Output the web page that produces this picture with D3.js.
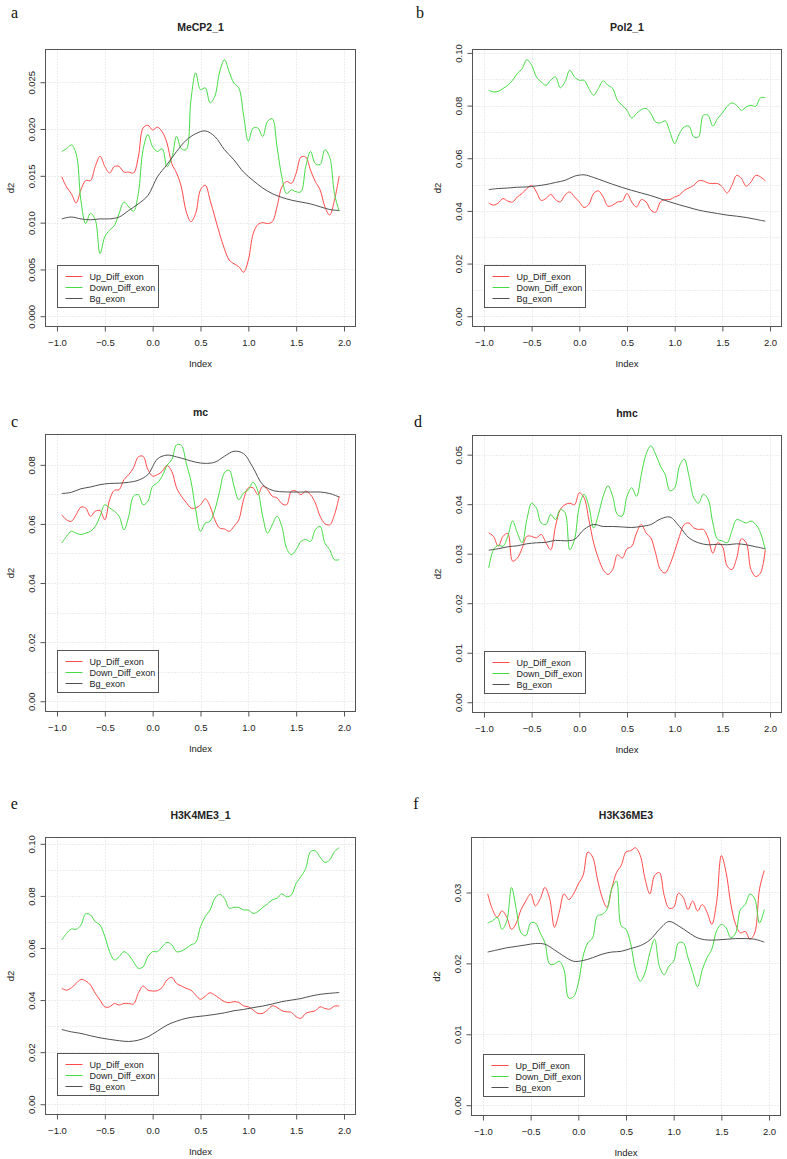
<!DOCTYPE html>
<html lang="en">
<head>
<meta charset="utf-8">
<title>Exon profiles</title>
<script src="https://d3js.org/d3.v7.min.js"></script>
<style type="text/css">
  body { margin: 0; background: white; }
  svg { display: block; }
  .axis text { font: 9.5px "Liberation Sans", Arial, sans-serif; fill: #222; }
  .axis path, .axis line { stroke: #555; }
  .grid line { stroke: #dadada; stroke-dasharray: 1,2; }
  .title { font: bold 10.5px "Liberation Sans", Arial, sans-serif; fill: #222; }
  .lab { font: 9.5px "Liberation Sans", Arial, sans-serif; fill: #222; }
  .letter { font: 16px "Liberation Serif", "Times New Roman", serif; fill: #111; }
  .legend text { font: 9px "Liberation Sans", Arial, sans-serif; fill: #222; }
</style>
</head>
<body>
<script type="text/javascript">
// x positions of the smoothed profiles
var xs = [-0.95,-0.9,-0.85,-0.8,-0.75,-0.7,-0.65,-0.6,-0.55,-0.5,
  -0.45,-0.4,-0.35,-0.3,-0.25,-0.2,-0.15,-0.1,-0.05,0,
  0.05,0.1,0.15,0.2,0.25,0.3,0.35,0.4,0.45,0.5,
  0.55,0.6,0.65,0.7,0.75,0.8,0.85,0.9,0.95,1,
  1.05,1.1,1.15,1.2,1.25,1.3,1.35,1.4,1.45,1.5,
  1.55,1.6,1.65,1.7,1.75,1.8,1.85,1.9,1.95];
var xsBg = [-0.95,-0.85,-0.75,-0.65,-0.55,-0.45,-0.35,-0.25,-0.15,-0.05,
  0.05,0.15,0.25,0.35,0.45,0.55,0.65,0.75,0.85,0.95,
  1.05,1.15,1.25,1.35,1.45,1.55,1.65,1.75,1.85,1.95];

var seriesNames = ["Up_Diff_exon", "Down_Diff_exon", "Bg_exon"];
var seriesColors = ["#ff4a4a", "#45dc45", "#505050"];
var titles = ["MeCP2_1", "Pol2_1", "mc", "hmc", "H3K4ME3_1", "H3K36ME3"];
var letters = ["a", "b", "c", "d", "e", "f"];
var xTicks = [-1, -0.5, 0, 0.5, 1, 1.5, 2];

// a: MeCP2_1
var aUp = [0.0149,0.0138,0.0131,0.0121,0.0135,0.0145,0.0145,0.0160,0.0171,0.0160,
  0.0153,0.0160,0.0160,0.0154,0.0154,0.0153,0.0170,0.0201,0.0204,0.0199,
  0.0202,0.0197,0.0185,0.0163,0.0153,0.0138,0.0112,0.0101,0.0110,0.0135,
  0.0140,0.0124,0.0106,0.0088,0.0072,0.0060,0.0056,0.0053,0.0047,0.0060,
  0.0088,0.0098,0.0100,0.0099,0.0101,0.0117,0.0138,0.0144,0.0142,0.0153,
  0.0170,0.0170,0.0156,0.0144,0.0135,0.0117,0.0108,0.0124,0.0150];
var aDown = [0.0176,0.0179,0.0183,0.0174,0.0124,0.0099,0.0110,0.0103,0.0067,0.0085,
  0.0092,0.0097,0.0110,0.0122,0.0117,0.0112,0.0131,0.0178,0.0194,0.0181,
  0.0176,0.0179,0.0160,0.0169,0.0192,0.0179,0.0178,0.0231,0.0260,0.0242,
  0.0244,0.0228,0.0235,0.0261,0.0274,0.0261,0.0249,0.0244,0.0215,0.0187,
  0.0201,0.0201,0.0192,0.0208,0.0211,0.0181,0.0149,0.0131,0.0135,0.0133,
  0.0133,0.0160,0.0176,0.0163,0.0162,0.0178,0.0170,0.0131,0.0112];
var aBg = [0.0104,0.0106,0.0104,0.0103,0.0104,0.0104,0.0106,0.0113,0.0120,0.0129,
  0.0149,0.0162,0.0176,0.0188,0.0195,0.0198,0.0192,0.0178,0.0167,0.0154,
  0.0145,0.0137,0.0131,0.0127,0.0124,0.0122,0.0120,0.0117,0.0114,0.0113];
var aTicks = [0, 0.005, 0.01, 0.015, 0.02, 0.025];
var aGrid = [0, 0.005, 0.01, 0.015, 0.02, 0.025];

// b: Pol2_1
var bUp = [0.0430,0.0422,0.0430,0.0447,0.0437,0.0434,0.0453,0.0466,0.0485,0.0497,
  0.0472,0.0440,0.0447,0.0463,0.0443,0.0434,0.0460,0.0472,0.0453,0.0434,
  0.0413,0.0425,0.0466,0.0476,0.0453,0.0418,0.0422,0.0434,0.0437,0.0466,
  0.0434,0.0415,0.0443,0.0434,0.0403,0.0395,0.0434,0.0443,0.0443,0.0453,
  0.0460,0.0478,0.0487,0.0497,0.0514,0.0514,0.0506,0.0504,0.0504,0.0491,
  0.0468,0.0497,0.0535,0.0523,0.0494,0.0510,0.0535,0.0529,0.0514];
var bDown = [0.0858,0.0852,0.0854,0.0865,0.0877,0.0896,0.0922,0.0940,0.0974,0.0953,
  0.0909,0.0890,0.0877,0.0896,0.0909,0.0868,0.0890,0.0934,0.0909,0.0896,
  0.0896,0.0865,0.0839,0.0865,0.0894,0.0877,0.0865,0.0820,0.0801,0.0782,
  0.0753,0.0770,0.0785,0.0789,0.0770,0.0738,0.0734,0.0742,0.0700,0.0656,
  0.0694,0.0719,0.0722,0.0681,0.0681,0.0763,0.0763,0.0722,0.0751,0.0772,
  0.0797,0.0810,0.0801,0.0782,0.0795,0.0801,0.0797,0.0830,0.0830];
var bBg = [0.0481,0.0485,0.0487,0.0490,0.0491,0.0495,0.0500,0.0508,0.0516,0.0532,
  0.0537,0.0527,0.0514,0.0501,0.0489,0.0478,0.0468,0.0458,0.0446,0.0434,
  0.0423,0.0413,0.0403,0.0396,0.0390,0.0384,0.0380,0.0375,0.0368,0.0361];
var bTicks = [0, 0.02, 0.04, 0.06, 0.08, 0.1];
var bGrid = [0, 0.01, 0.02, 0.03, 0.04, 0.05, 0.06, 0.07, 0.08, 0.09, 0.1];

// c: mc
var cUp = [0.0631,0.0614,0.0609,0.0631,0.0657,0.0654,0.0626,0.0643,0.0645,0.0614,
  0.0682,0.0714,0.0716,0.0750,0.0767,0.0790,0.0827,0.0829,0.0784,0.0762,
  0.0767,0.0778,0.0798,0.0778,0.0722,0.0694,0.0673,0.0654,0.0654,0.0665,
  0.0685,0.0660,0.0614,0.0586,0.0583,0.0575,0.0592,0.0614,0.0682,0.0722,
  0.0722,0.0699,0.0728,0.0716,0.0694,0.0688,0.0669,0.0665,0.0711,0.0711,
  0.0699,0.0711,0.0699,0.0671,0.0626,0.0601,0.0597,0.0631,0.0694];
var cDown = [0.0535,0.0558,0.0575,0.0569,0.0564,0.0569,0.0575,0.0592,0.0626,0.0665,
  0.0654,0.0643,0.0626,0.0580,0.0626,0.0694,0.0699,0.0665,0.0677,0.0728,
  0.0739,0.0762,0.0798,0.0818,0.0868,0.0866,0.0807,0.0745,0.0648,0.0575,
  0.0603,0.0609,0.0648,0.0711,0.0773,0.0782,0.0728,0.0682,0.0705,0.0716,
  0.0741,0.0711,0.0626,0.0569,0.0597,0.0626,0.0592,0.0518,0.0496,0.0513,
  0.0541,0.0547,0.0541,0.0580,0.0592,0.0535,0.0513,0.0479,0.0479];
var cBg = [0.0703,0.0707,0.0719,0.0725,0.0733,0.0737,0.0738,0.0741,0.0748,0.0767,
  0.0820,0.0833,0.0827,0.0818,0.0809,0.0805,0.0809,0.0829,0.0846,0.0838,
  0.0790,0.0733,0.0714,0.0709,0.0708,0.0708,0.0708,0.0708,0.0703,0.0691];
var cTicks = [0, 0.02, 0.04, 0.06, 0.08];
var cGrid = [0, 0.01, 0.02, 0.03, 0.04, 0.05, 0.06, 0.07, 0.08];

// d: hmc
var dUp = [0.0342,0.0335,0.0315,0.0335,0.0341,0.0285,0.0291,0.0311,0.0335,0.0335,
  0.0332,0.0339,0.0322,0.0308,0.0355,0.0389,0.0399,0.0402,0.0399,0.0423,
  0.0413,0.0369,0.0322,0.0291,0.0268,0.0258,0.0268,0.0298,0.0291,0.0310,
  0.0315,0.0342,0.0359,0.0342,0.0332,0.0301,0.0268,0.0261,0.0278,0.0305,
  0.0335,0.0359,0.0362,0.0352,0.0349,0.0349,0.0332,0.0301,0.0322,0.0315,
  0.0275,0.0268,0.0291,0.0330,0.0322,0.0268,0.0254,0.0261,0.0308];
var dDown = [0.0271,0.0308,0.0317,0.0315,0.0335,0.0366,0.0342,0.0322,0.0369,0.0402,
  0.0392,0.0362,0.0359,0.0379,0.0369,0.0389,0.0383,0.0308,0.0329,0.0396,
  0.0420,0.0396,0.0352,0.0379,0.0416,0.0437,0.0416,0.0379,0.0376,0.0416,
  0.0433,0.0416,0.0460,0.0501,0.0518,0.0501,0.0477,0.0460,0.0427,0.0433,
  0.0477,0.0491,0.0457,0.0413,0.0402,0.0420,0.0410,0.0362,0.0329,0.0326,
  0.0322,0.0346,0.0369,0.0366,0.0362,0.0366,0.0359,0.0342,0.0308];
var dBg = [0.0307,0.0310,0.0314,0.0316,0.0320,0.0322,0.0323,0.0327,0.0326,0.0329,
  0.0349,0.0359,0.0355,0.0355,0.0354,0.0353,0.0355,0.0359,0.0370,0.0374,
  0.0355,0.0332,0.0322,0.0318,0.0319,0.0318,0.0320,0.0318,0.0314,0.0310];
var dTicks = [0, 0.01, 0.02, 0.03, 0.04, 0.05];
var dGrid = [0, 0.01, 0.02, 0.03, 0.04, 0.05];

// e: H3K4ME3_1
var eUp = [0.0445,0.0438,0.0447,0.0464,0.0479,0.0474,0.0458,0.0426,0.0400,0.0374,
  0.0374,0.0387,0.0381,0.0387,0.0387,0.0385,0.0426,0.0454,0.0438,0.0435,
  0.0436,0.0449,0.0477,0.0487,0.0464,0.0454,0.0445,0.0438,0.0419,0.0403,
  0.0415,0.0428,0.0419,0.0406,0.0394,0.0390,0.0394,0.0391,0.0378,0.0374,
  0.0362,0.0349,0.0349,0.0362,0.0378,0.0372,0.0359,0.0355,0.0353,0.0336,
  0.0330,0.0349,0.0355,0.0359,0.0374,0.0368,0.0365,0.0377,0.0377];
var eDown = [0.0631,0.0656,0.0673,0.0672,0.0688,0.0731,0.0727,0.0701,0.0688,0.0644,
  0.0586,0.0554,0.0567,0.0586,0.0573,0.0547,0.0522,0.0528,0.0567,0.0586,
  0.0586,0.0605,0.0622,0.0612,0.0586,0.0588,0.0599,0.0612,0.0621,0.0682,
  0.0721,0.0746,0.0791,0.0806,0.0791,0.0753,0.0756,0.0756,0.0746,0.0746,
  0.0733,0.0740,0.0756,0.0769,0.0785,0.0791,0.0808,0.0797,0.0804,0.0849,
  0.0874,0.0906,0.0970,0.0973,0.0949,0.0929,0.0938,0.0970,0.0985];
var eBg = [0.0287,0.0278,0.0272,0.0263,0.0255,0.0249,0.0244,0.0241,0.0246,0.0259,
  0.0281,0.0304,0.0319,0.0330,0.0336,0.0340,0.0345,0.0351,0.0359,0.0364,
  0.0371,0.0377,0.0385,0.0394,0.0400,0.0406,0.0415,0.0422,0.0426,0.0429];
var eTicks = [0, 0.02, 0.04, 0.06, 0.08, 0.1];
var eGrid = [0, 0.01, 0.02, 0.03, 0.04, 0.05, 0.06, 0.07, 0.08, 0.09, 0.1];

// f: H3K36ME3
var fUp = [0.0298,0.0276,0.0265,0.0274,0.0265,0.0248,0.0257,0.0276,0.0288,0.0298,
  0.0281,0.0291,0.0307,0.0291,0.0251,0.0272,0.0298,0.0290,0.0298,0.0312,
  0.0324,0.0357,0.0350,0.0319,0.0293,0.0279,0.0305,0.0328,0.0338,0.0357,
  0.0359,0.0363,0.0352,0.0319,0.0298,0.0324,0.0328,0.0296,0.0278,0.0279,
  0.0299,0.0293,0.0276,0.0288,0.0274,0.0283,0.0272,0.0255,0.0286,0.0352,
  0.0328,0.0283,0.0255,0.0243,0.0245,0.0234,0.0243,0.0305,0.0331];
var fDown = [0.0257,0.0260,0.0265,0.0248,0.0260,0.0307,0.0276,0.0243,0.0239,0.0257,
  0.0257,0.0243,0.0229,0.0199,0.0199,0.0203,0.0191,0.0151,0.0153,0.0172,
  0.0210,0.0229,0.0236,0.0267,0.0269,0.0276,0.0305,0.0316,0.0253,0.0248,
  0.0227,0.0191,0.0175,0.0187,0.0215,0.0234,0.0196,0.0184,0.0196,0.0203,
  0.0229,0.0229,0.0208,0.0187,0.0167,0.0191,0.0208,0.0220,0.0246,0.0255,
  0.0250,0.0236,0.0243,0.0276,0.0283,0.0298,0.0291,0.0257,0.0276];
var fBg = [0.0216,0.0219,0.0222,0.0224,0.0226,0.0228,0.0227,0.0219,0.0210,0.0203,
  0.0204,0.0208,0.0213,0.0216,0.0217,0.0221,0.0225,0.0233,0.0248,0.0259,
  0.0253,0.0244,0.0236,0.0233,0.0233,0.0234,0.0235,0.0235,0.0234,0.0230];
var fTicks = [0, 0.01, 0.02, 0.03];
var fGrid = [0, 0.01, 0.02, 0.03];

var w = 787, h = 1159;

// plot boxes [left, top, right, bottom] and panel letter positions
var panels = [
  {up: aUp, down: aDown, bg: aBg, ticks: aTicks, grid: aGrid, fmt: ".3f",
   box: [45.5, 49.5, 355.5, 326.5], letterPos: [11, 17.5]},
  {up: bUp, down: bDown, bg: bBg, ticks: bTicks, grid: bGrid, fmt: ".2f",
   box: [472.5, 49.5, 781.5, 326.5], letterPos: [416, 17.5]},
  {up: cUp, down: cDown, bg: cBg, ticks: cTicks, grid: cGrid, fmt: ".2f",
   box: [45.5, 434.5, 355.5, 711.5], letterPos: [11, 427.3]},
  {up: dUp, down: dDown, bg: dBg, ticks: dTicks, grid: dGrid, fmt: ".2f",
   box: [472.5, 435.5, 781.5, 712.5], letterPos: [414, 427.3]},
  {up: eUp, down: eDown, bg: eBg, ticks: eTicks, grid: eGrid, fmt: ".2f",
   box: [45.5, 837.5, 355.5, 1114.5], letterPos: [10.7, 809.3]},
  {up: fUp, down: fDown, bg: fBg, ticks: fTicks, grid: fGrid, fmt: ".2f",
   box: [471.5, 837.5, 780.5, 1115.5], letterPos: [413.3, 809.3]}
];

var svg = d3.select("body").append("svg")
    .attr("width", w)
    .attr("height", h);

svg.append("rect").attr("width", w).attr("height", h).attr("fill", "white");

panels.forEach(function(p, i) {
    var L = p.box[0], T = p.box[1], R = p.box[2], B = p.box[3];

    // R style: 4% padding on both axes
    var x = d3.scaleLinear().domain([-1.12, 2.12]).range([L, R]);
    var ymax = d3.max([d3.max(p.up), d3.max(p.down), d3.max(p.bg)]);
    var y = d3.scaleLinear().domain([-0.04 * ymax, 1.04 * ymax]).range([B, T]);

    var g = svg.append("g");

    // dotted grid
    var grid = g.append("g").attr("class", "grid");
    grid.selectAll("line.gy")
        .data(p.grid)
        .enter().append("line")
        .attr("class", "gy")
        .attr("x1", L).attr("x2", R)
        .attr("y1", function(d) { return Math.round(y(d)) + 0.5; })
        .attr("y2", function(d) { return Math.round(y(d)) + 0.5; });
    grid.selectAll("line.gx")
        .data(xTicks)
        .enter().append("line")
        .attr("class", "gx")
        .attr("y1", T).attr("y2", B)
        .attr("x1", function(d) { return Math.round(x(d)) + 0.5; })
        .attr("x2", function(d) { return Math.round(x(d)) + 0.5; });

    // profile lines
    var line = d3.line()
        .x(function(d) { return x(d[0]); })
        .y(function(d) { return y(d[1]); })
        .curve(d3.curveCatmullRom);

    var series = [
        xs.map(function(v, k) { return [v, p.up[k]]; }),
        xs.map(function(v, k) { return [v, p.down[k]]; }),
        xsBg.map(function(v, k) { return [v, p.bg[k]]; })
    ];
    g.selectAll("path.series")
        .data(series)
        .enter().append("path")
        .attr("class", "series")
        .attr("d", line)
        .attr("fill", "none")
        .attr("stroke", function(d, k) { return seriesColors[k]; })
        .attr("stroke-width", 1);

    // axes
    var xAxis = d3.axisBottom(x)
        .tickValues(xTicks)
        .tickFormat(d3.format(".1f"))
        .tickSize(5)
        .tickSizeOuter(0)
        .tickPadding(8);
    g.append("g")
        .attr("class", "axis")
        .attr("transform", "translate(0," + B + ")")
        .call(xAxis)
        .select(".domain")
        .attr("d", "M" + x(-1) + ",0H" + x(2));

    var yAxis = d3.axisLeft(y)
        .tickValues(p.ticks)
        .tickFormat(d3.format(p.fmt))
        .tickSize(5)
        .tickSizeOuter(0);
    var ya = g.append("g")
        .attr("class", "axis")
        .attr("transform", "translate(" + L + ",0)")
        .call(yAxis);
    ya.select(".domain")
        .attr("d", "M0," + y(p.ticks[0]) + "V" + y(p.ticks[p.ticks.length - 1]));
    ya.selectAll(".tick text")
        .attr("transform", "rotate(-90)")
        .attr("x", 0)
        .attr("y", -11)
        .attr("dy", 0)
        .style("text-anchor", "middle");

    // box
    g.append("rect")
        .attr("x", L).attr("y", T)
        .attr("width", R - L).attr("height", B - T)
        .attr("fill", "none")
        .attr("stroke", "#555")
        .attr("stroke-width", 1);

    // titles and labels
    g.append("text")
        .attr("class", "title")
        .attr("x", (L + R) / 2)
        .attr("y", T - 18.5)
        .attr("text-anchor", "middle")
        .text(titles[i]);
    g.append("text")
        .attr("class", "lab")
        .attr("x", (L + R) / 2)
        .attr("y", B + 40.5)
        .attr("text-anchor", "middle")
        .text("Index");
    g.append("text")
        .attr("class", "lab")
        .attr("transform", "translate(" + (L - 32) + "," + ((T + B) / 2) + ") rotate(-90)")
        .attr("text-anchor", "middle")
        .text("d2");
    g.append("text")
        .attr("class", "letter")
        .attr("x", p.letterPos[0])
        .attr("y", p.letterPos[1])
        .text(letters[i]);

    // legend, bottom left
    var lg = g.append("g")
        .attr("class", "legend")
        .attr("transform", "translate(" + (L + 12) + "," + (B - 61) + ")");
    lg.append("rect")
        .attr("width", 101).attr("height", 42)
        .attr("fill", "white")
        .attr("stroke", "#555");
    var item = lg.selectAll("g.item")
        .data(seriesNames)
        .enter().append("g")
        .attr("class", "item")
        .attr("transform", function(d, k) { return "translate(0," + (11 + k * 11) + ")"; });
    item.append("line")
        .attr("x1", 8).attr("x2", 25)
        .attr("stroke", function(d, k) { return seriesColors[k]; })
        .attr("stroke-width", 1);
    item.append("text")
        .attr("x", 32)
        .attr("dy", "0.35em")
        .text(function(d) { return d; });
});
</script>
</body>
</html>
